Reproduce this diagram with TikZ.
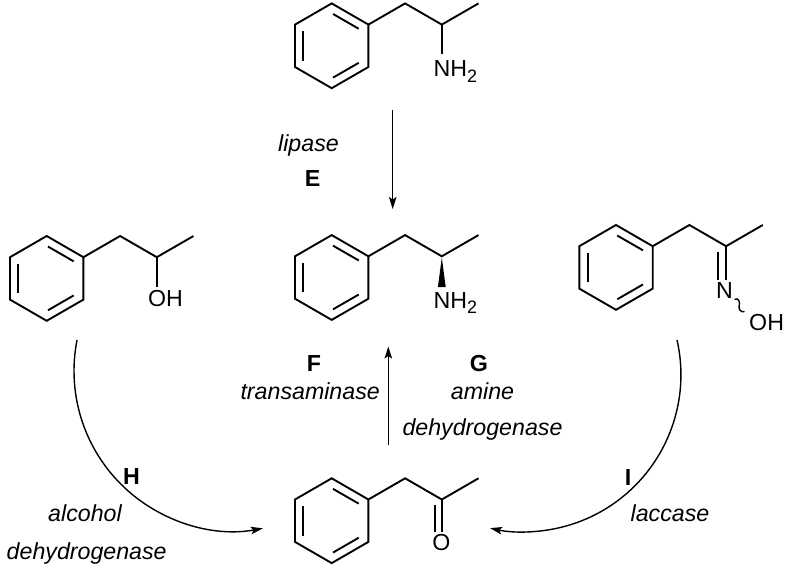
\documentclass[tikz,border=0pt]{standalone}
\usepackage{fontspec}
\setmainfont{Liberation Sans}
\usetikzlibrary{arrows.meta}
\newcommand\subtwo{\raisebox{-5.5pt}{\fontsize{18}{18}\selectfont 2}}
\tikzset{
  bond/.style={line width=1.9pt},
  inner/.style={line width=1.9pt, shorten <=1.5pt, shorten >=1.5pt},
  rxn/.style={line width=1.4pt, -{Stealth[length=12pt,width=7.5pt,inset=2.5pt]}},
  atom/.style={inner sep=0pt, anchor=base, font=\fontsize{23.2}{28}\selectfont},
  atomw/.style={atom, anchor=base west},
  ital/.style={inner sep=0pt, anchor=base, font=\fontsize{23.2}{28}\selectfont\itshape},
  bld/.style={inner sep=0pt, anchor=base, font=\fontsize{23.2}{28}\selectfont\bfseries},
  skel/.pic={
    \draw[bond] (0,-42.4) -- (36.7,-21.2) -- (36.7,21.2) -- (0,42.4) -- (-36.7,21.2) -- (-36.7,-21.2) -- cycle;
    \draw[inner] (-28.3,-16.3) -- (-28.3,16.3);
    \draw[inner] (0,-32.6) -- (28.3,-16.3);
    \draw[inner] (28.3,16.3) -- (0,32.6);
    \draw[bond] (36.7,-21.2) -- (73.4,-42.4) -- (110.1,-21.2) -- (146.8,-42.4);
  }
}
\begin{document}
\begin{tikzpicture}[x=1pt,y=-1pt]
\useasboundingbox (0,0) rectangle (785,568);
% top: racemic amine
\pic at (331.7,45.8) {skel};
\draw[bond] (441.8,24.6) -- (441.8,54);
\node[atomw] (nh2top) at (433.4,76.5) {NH\subtwo};
% middle: (R)-amine
\pic at (331.7,277.5) {skel};
\fill (441.8,257.5) -- (437.9,287) -- (445.7,287) -- cycle;
\node[atomw] (nh2mid) at (433.4,308) {NH\subtwo};
% left: alcohol
\pic at (46.7,278.4) {skel};
\draw[bond] (156.8,257.2) -- (156.8,287);
\node[atomw] (ohleft) at (147.8,306.7) {OH};
% right: oxime
\pic at (616,267.4) {skel};
\draw[bond] (726.1,246.2) -- (726.1,280);
\draw[bond] (718.3,251.5) -- (718.3,280);
\node[atom] (noxime) at (724.5,298.5) {N};
\draw[line width=1.4pt] (734.5,299.5) .. controls (738,297) and (740.5,302) .. (739.2,305.5)
  .. controls (738,309) and (741,313) .. (744.5,311.5);
\node[atomw] (ohoxime) at (749,330) {OH};
% bottom: ketone
\pic at (331.7,520.7) {skel};
\draw[bond] (441.8,499.5) -- (441.8,532);
\draw[bond] (435.2,504.5) -- (435.2,532);
\node[atom] (oket) at (441.3,550) {O};
% arrows
\coordinate (Etop) at (392.7,110);
\coordinate (Ebot) at (392.7,209);
\draw[rxn] (Etop) -- (Ebot);
\coordinate (FGbot) at (388.3,445);
\coordinate (FGtop) at (388.3,346.5);
\draw[rxn] (FGbot) -- (FGtop);
\coordinate (Hstart) at (77.05,339.9);
\draw[rxn] (Hstart) arc[start angle=191.2, end angle=79.6, radius=160];
\coordinate (Istart) at (677,339.9);
\draw[rxn] (Istart) arc[start angle=-12.8, end angle=102.4, radius=157.1];
% labels
\node[ital] (lip) at (308.5,151.5) {lipase};
\node[bld] (labE) at (312.5,186) {E};
\node[bld] (labF) at (314,371.5) {F};
\node[ital, anchor=base east] (trans) at (380,399) {transaminase};
\node[bld] (labG) at (479,371.5) {G};
\node[ital] (amine) at (482.5,399) {amine};
\node[ital] (dhG) at (482.5,435.5) {dehydrogenase};
\node[bld] (labH) at (131.5,484) {H};
\node[ital] (alc) at (85,521.5) {alcohol};
\node[ital] (dhH) at (86.7,559) {dehydrogenase};
\node[bld] (labI) at (628,485) {I};
\node[ital] (lac) at (670,521) {laccase};
\end{tikzpicture}
\end{document}
